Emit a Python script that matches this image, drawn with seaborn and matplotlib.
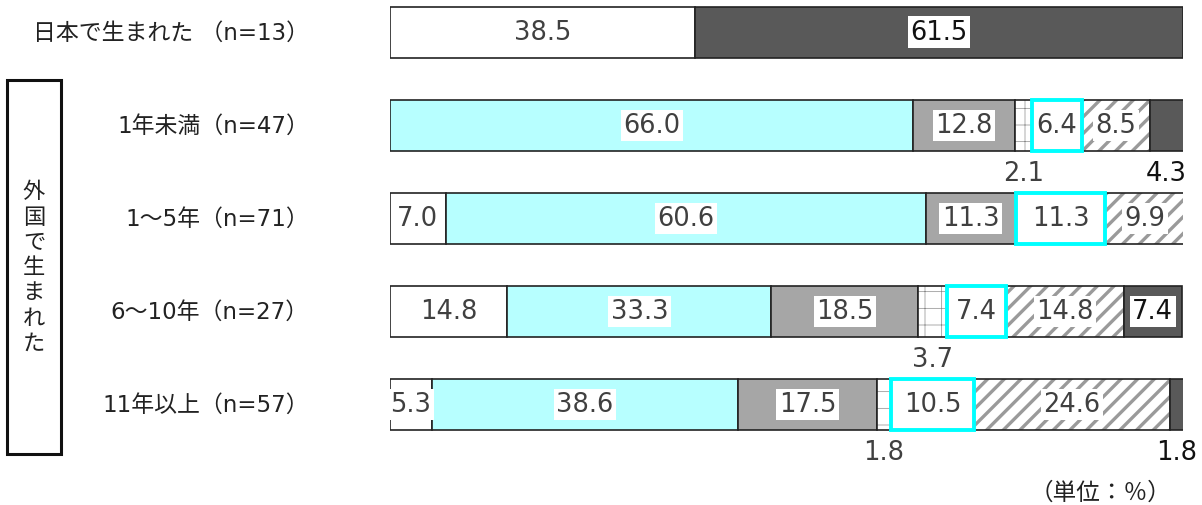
import numpy as np
import matplotlib.pyplot as plt
from matplotlib.patches import Rectangle
from matplotlib.transforms import blended_transform_factory
import seaborn as sns

# data (単位：%)
categories = ["日本で生まれた （n=13）", "1年未満（n=47）", "1～5年（n=71）",
              "6～10年（n=27）", "11年以上（n=57）"]
seg_white = [38.5, 0.0, 7.0, 14.8, 5.3]
seg_lightcyan = [0.0, 66.0, 60.6, 33.3, 38.6]
seg_gray = [0.0, 12.8, 11.3, 18.5, 17.5]
seg_dotted = [0.0, 2.1, 0.0, 3.7, 1.8]
seg_cyanframe = [0.0, 6.4, 11.3, 7.4, 10.5]
seg_hatched = [0.0, 8.5, 9.9, 14.8, 24.6]
seg_dark = [61.5, 4.3, 0.0, 7.4, 1.8]

sns.set_theme(style="white")
plt.rcParams['font.family'] = ['DejaVu Sans', 'Noto Sans CJK JP']

W, H = 1202, 506
fig = plt.figure(figsize=(W / 100, H / 100), dpi=100)
# axes spans the full height; rows every ~93px, first row centred at y=33px
step = 93.1
ax = fig.add_axes([390 / W, 0, 793 / W, 1])
ax.set_xlim(0, 100)
ax.set_ylim((H - 33) / step, -33 / step)
ax.axis('off')

# (facecolor, edgecolor, linewidth, hatch, hatchcolor, hatch lw, text colour)
styles = [
    ("white", "#222222", 1.2, None, None, 0, "#404040"),
    ("#B7FFFF", "#222222", 1.2, None, None, 0, "#404040"),
    ("#A6A6A6", "#222222", 1.2, None, None, 0, "#404040"),
    ("white", "#222222", 1.2, "+", "#8A8A8A", 0.5, "#404040"),
    ("white", "#00FFFF", 2.8, None, None, 0, "#404040"),
    ("white", "#222222", 1.2, "//", "#9A9A9A", 2.4, "#404040"),
    ("#595959", "#222222", 1.2, None, None, 0, "#111111"),
]
segments = [seg_white, seg_lightcyan, seg_gray, seg_dotted,
            seg_cyanframe, seg_hatched, seg_dark]

y = np.arange(len(categories))
left = np.zeros(len(categories))
bh = 51 / step
for vals, st in zip(segments, styles):
    fc, ec, lw, hatch, hc, hlw, tc = st
    vals = np.array(vals)
    m = vals > 0
    z = 3 if ec == "#00FFFF" else 2
    if hatch:
        with plt.rc_context({'hatch.linewidth': hlw}):
            ax.barh(y[m], vals[m], left=left[m], height=bh, color=fc,
                    edgecolor=hc, linewidth=0, hatch=hatch, zorder=z)
        ax.barh(y[m], vals[m], left=left[m], height=bh, color="none",
                edgecolor=ec, linewidth=lw, zorder=z)
    else:
        ax.barh(y[m], vals[m], left=left[m], height=bh, color=fc,
                edgecolor=ec, linewidth=lw, zorder=z)
    for yi, v, l in zip(y[m], vals[m], left[m]):
        cx = l + v / 2
        if v >= 5:
            ax.text(cx, yi, f"{v:.1f}", ha='center', va='center', fontsize=18.5,
                    color=tc, zorder=5,
                    bbox=dict(boxstyle='square,pad=0.1', fc='white', ec='none'))
        else:
            ax.text(cx, yi + 48 / step, f"{v:.1f}", ha='center', va='center',
                    fontsize=18.5, color=tc, zorder=5)
    left += vals

# category labels
tr = blended_transform_factory(fig.transFigure, ax.transData)
for yi, lab in zip(y, categories):
    ax.text(309 / W, yi, lab, transform=tr, ha='right', va='center',
            fontsize=16.5, color="#222222")

# bracket box with vertical text
fig.patches.append(Rectangle((7 / W, 1 - 455 / H), 54 / W, 374 / H,
                             transform=fig.transFigure, fill=False,
                             edgecolor="#111111", linewidth=2.2))
fig.text(34 / W, 1 - 268 / H, "\n".join("外国で生まれた"), ha='center',
         va='center', fontsize=16, linespacing=1.33, color="#222222")

fig.text(1100 / W, 1 - 493 / H, "（単位：％）", ha='center', va='center',
         fontsize=17, color="#222222")

fig.savefig("out.png", dpi=100)
